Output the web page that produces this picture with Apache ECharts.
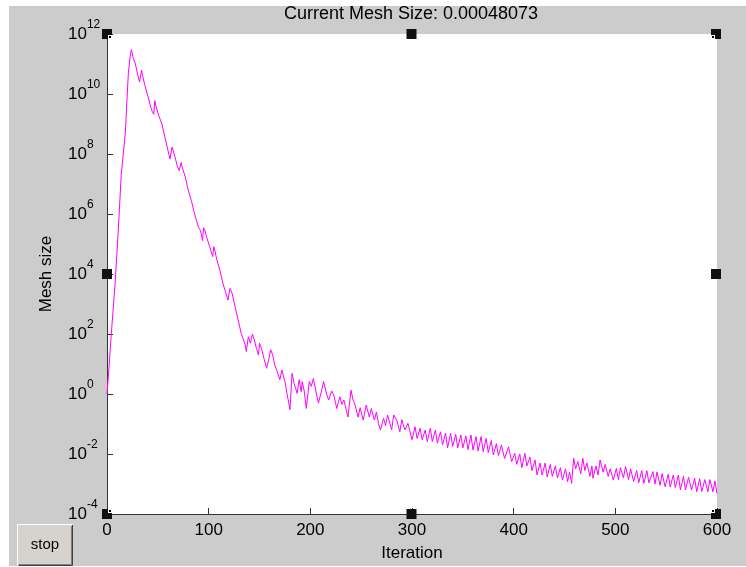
<!DOCTYPE html>
<html>
<head>
<meta charset="utf-8">
<script src="https://cdn.jsdelivr.net/npm/echarts@6/dist/echarts.min.js"></script>
<style>
html,body{margin:0;padding:0;background:#fff;}
#chart{width:746px;height:567px;}
</style>
</head>
<body>
<div id="chart"></div>
<script>
var titleText = 'Current Mesh Size: 0.00048073';
var xAxisName = 'Iteration';
var yAxisName = 'Mesh size';
var buttonText = 'stop';

var iterations = [
  0,2,4,6,8,11,14,18,21,23,
  24,26,28,30,32,34,35,37,41,44,
  46,47,48,51,54,57,60,62,64,65,
  67,69,71,73,74,77,80,83,87,90,
  92,94,95,96,98,101,104,105,106,108,
  111,114,117,119,121,123,126,129,132,136,
  137,139,141,143,145,147,149,150,152,154,
  157,159,161,163,165,168,170,172,175,177,
  180,182,184,187,189,191,192,194,196,199,
  201,203,206,208,211,213,216,218,221,223,
  226,229,231,233,237,240,242,244,247,249,
  252,255,258,260,263,265,267,269,272,274,
  276,280,282,285,288,290,293,296,300,303,
  305,308,310,313,315,318,320,323,325,328,
  330,333,335,338,340,343,345,348,350,353,
  355,358,360,363,365,368,370,373,375,378,
  380,383,385,388,391,395,398,401,403,406,
  408,411,413,416,418,421,423,426,428,431,
  433,436,438,441,443,446,448,451,453,455,
  457,459,461,463,466,468,470,472,475,477,
  478,481,483,485,488,490,493,495,498,501,
  503,505,508,510,513,515,518,521,523,526,
  528,531,533,537,539,541,544,546,549,552,
  554,557,559,562,564,567,569,572,575,578,
  580,583,585,588,591,593,596,598,600
];

var meshSize = [
  1,7.9,79,630,5.0e3,2.5e5,2.0e7,5.0e8,5.0e10,2.0e11,
  3.0e11,1.5e11,1.0e11,4.7e10,2.5e10,6.3e10,4.1e10,2.1e10,6.8e9,2.8e9,
  2.1e9,6.0e9,4.1e9,1.9e9,1.0e9,3.6e8,1.3e8,6.8e7,1.7e8,1.9e8,
  7.8e7,4.1e7,2.8e7,5.2e7,3.6e7,1.7e7,6.0e6,2.8e6,7.8e5,3.6e5,
  2.8e5,1.3e5,3.5e5,3.0e5,1.7e5,8.1e4,3.8e4,8.1e4,6.3e4,3.0e4,
  1.35e4,4.9e3,2.3e3,1.35e3,3.3e3,2.3e3,810,295,105,43,
  26,81,49,100,63,33,20,49,33,17,
  7.2,13.5,30,20,9.3,4.9,3.0,6.3,2.6,1.05,
  0.30,4.9,2.3,1.05,3.0,1.2,2.6,1.26,0.33,2.6,
  1.8,3.3,1.0,0.5,1.26,2.6,1.0,0.63,1.26,0.93,
  0.33,0.81,0.45,0.63,0.17,1.35,0.63,0.43,0.17,0.35,
  0.135,0.43,0.17,0.33,0.135,0.25,0.105,0.063,0.155,0.089,
  0.2,0.063,0.2,0.135,0.055,0.14,0.063,0.105,0.030,0.081,
  0.033,0.072,0.030,0.063,0.026,0.072,0.026,0.063,0.023,0.055,
  0.020,0.050,0.016,0.049,0.018,0.045,0.016,0.043,0.016,0.040,
  0.014,0.043,0.0135,0.038,0.0126,0.038,0.012,0.033,0.0112,0.028,
  0.0093,0.022,0.0089,0.020,0.0071,0.0174,0.0056,0.0105,0.0045,0.010,
  0.0035,0.0105,0.004,0.0079,0.0028,0.0063,0.002,0.005,0.002,0.005,
  0.0017,0.0045,0.0018,0.004,0.0016,0.0035,0.00135,0.0032,0.0012,0.0025,
  0.00105,0.0072,0.0032,0.0056,0.0022,0.0072,0.0028,0.005,0.0018,0.004,
  0.00155,0.004,0.002,0.0063,0.0025,0.0045,0.0018,0.0032,0.00135,0.0033,
  0.0014,0.0035,0.0016,0.0038,0.0014,0.0032,0.0012,0.0028,0.0011,0.0028,
  0.00105,0.0028,0.0011,0.0026,0.001,0.0025,0.0009,0.0022,0.00081,0.0021,
  0.00079,0.002,0.00076,0.002,0.00063,0.0018,0.00063,0.00166,0.00063,0.00155,
  0.00055,0.0015,0.00056,0.0014,0.00055,0.0014,0.00055,0.00126,0.00048073
];

var FONT = '"Liberation Sans", Arial, Helvetica, sans-serif';
var GRAY = '#cccccc';

var chart = echarts.init(document.getElementById('chart'), null, {renderer: 'canvas'});

var seriesData = iterations.map(function (it, i) { return [it, meshSize[i]]; });

// Selection handles
var handlePts = [[107,34],[411.5,34],[716,34],[107,274],[716,274],[107,514],[411.5,514],[716,514]];
var handles = handlePts.map(function (p) {
  return {
    type: 'rect', z: 100,
    shape: {x: p[0] - 5, y: p[1] - 5, width: 10, height: 10},
    style: {fill: '#111'}
  };
});
var insets = [];
[[108,35],[108,509],[711,35],[711,509]].forEach(function (p) {
  insets.push({type: 'rect', z: 101, shape: {x: p[0], y: p[1], width: 4, height: 4}, style: {fill: '#fff'}});
  insets.push({type: 'rect', z: 102, shape: {x: p[0] + 1, y: p[1] + 1, width: 2, height: 2}, style: {fill: '#000'}});
});

var option = {
  animation: false,
  backgroundColor: '#ffffff',
  grid: {
    left: 107, top: 34, right: 29, bottom: 53,
    show: true, backgroundColor: '#ffffff', borderWidth: 0
  },
  xAxis: {
    type: 'value', min: 0, max: 600, interval: 100,
    name: xAxisName, nameLocation: 'middle', nameGap: 31,
    nameTextStyle: {fontFamily: FONT, fontSize: 17, color: '#000'},
    axisLine: {show: true, onZero: false, lineStyle: {color: '#333', width: 1}},
    axisTick: {show: true, inside: true, length: 6, lineStyle: {color: '#333'}},
    axisLabel: {fontFamily: FONT, fontSize: 17, color: '#000', margin: 8},
    splitLine: {show: false}
  },
  yAxis: {
    type: 'log', logBase: 10, min: 1e-4, max: 1e12, interval: 2,
    name: yAxisName, nameLocation: 'middle', nameGap: 52, nameRotate: 90,
    nameTextStyle: {fontFamily: FONT, fontSize: 17, color: '#000'},
    axisLine: {show: true, onZero: false, lineStyle: {color: '#333', width: 1}},
    axisTick: {show: true, inside: true, length: 6, lineStyle: {color: '#333'}},
    minorTick: {show: false},
    axisLabel: {
      align: 'left', margin: 39,
      formatter: function (v) {
        var e = Math.round(Math.log(v) / Math.LN10);
        return '{b|10}{s|' + e + '}';
      },
      rich: {
        b: {fontFamily: FONT, fontSize: 17, color: '#000', lineHeight: 18},
        s: {fontFamily: FONT, fontSize: 12, color: '#000', lineHeight: 12, padding: [0, 0, 18, 0]}
      }
    },
    splitLine: {show: false}
  },
  series: [{
    type: 'line',
    data: seriesData,
    showSymbol: false,
    symbol: 'none',
    lineStyle: {color: '#ff00ff', width: 1},
    z: 5
  }],
  graphic: [
    {
      type: 'rect', z: -100, silent: true,
      shape: {x: 9, y: 6, width: 737, height: 560},
      style: {fill: GRAY}
    },
    {
      type: 'text', z: 50,
      x: 411, y: 14,
      style: {text: titleText, fontFamily: FONT, fontSize: 18, fill: '#000', align: 'center', verticalAlign: 'middle'}
    },
    {
      type: 'group', z: 50,
      children: [
        {type: 'rect', shape: {x: 17, y: 524, width: 56, height: 42}, style: {fill: '#d6d3ce'}},
        {type: 'polyline', shape: {points: [[17.5,565.5],[17.5,524.5],[72.5,524.5]]}, style: {stroke: '#ffffff', lineWidth: 1, fill: null}},
        {type: 'polyline', shape: {points: [[18.5,565.5],[72.5,565.5],[72.5,525]]}, style: {stroke: '#404040', lineWidth: 1, fill: null}},
        {type: 'polyline', shape: {points: [[19,564.5],[71.5,564.5],[71.5,526]]}, style: {stroke: '#808080', lineWidth: 1, fill: null}},
        {type: 'text', x: 45, y: 545, style: {text: buttonText, fontFamily: FONT, fontSize: 15, fill: '#000', align: 'center', verticalAlign: 'middle'}}
      ]
    }
  ].concat(handles).concat(insets)
};

chart.setOption(option);
</script>
</body>
</html>
